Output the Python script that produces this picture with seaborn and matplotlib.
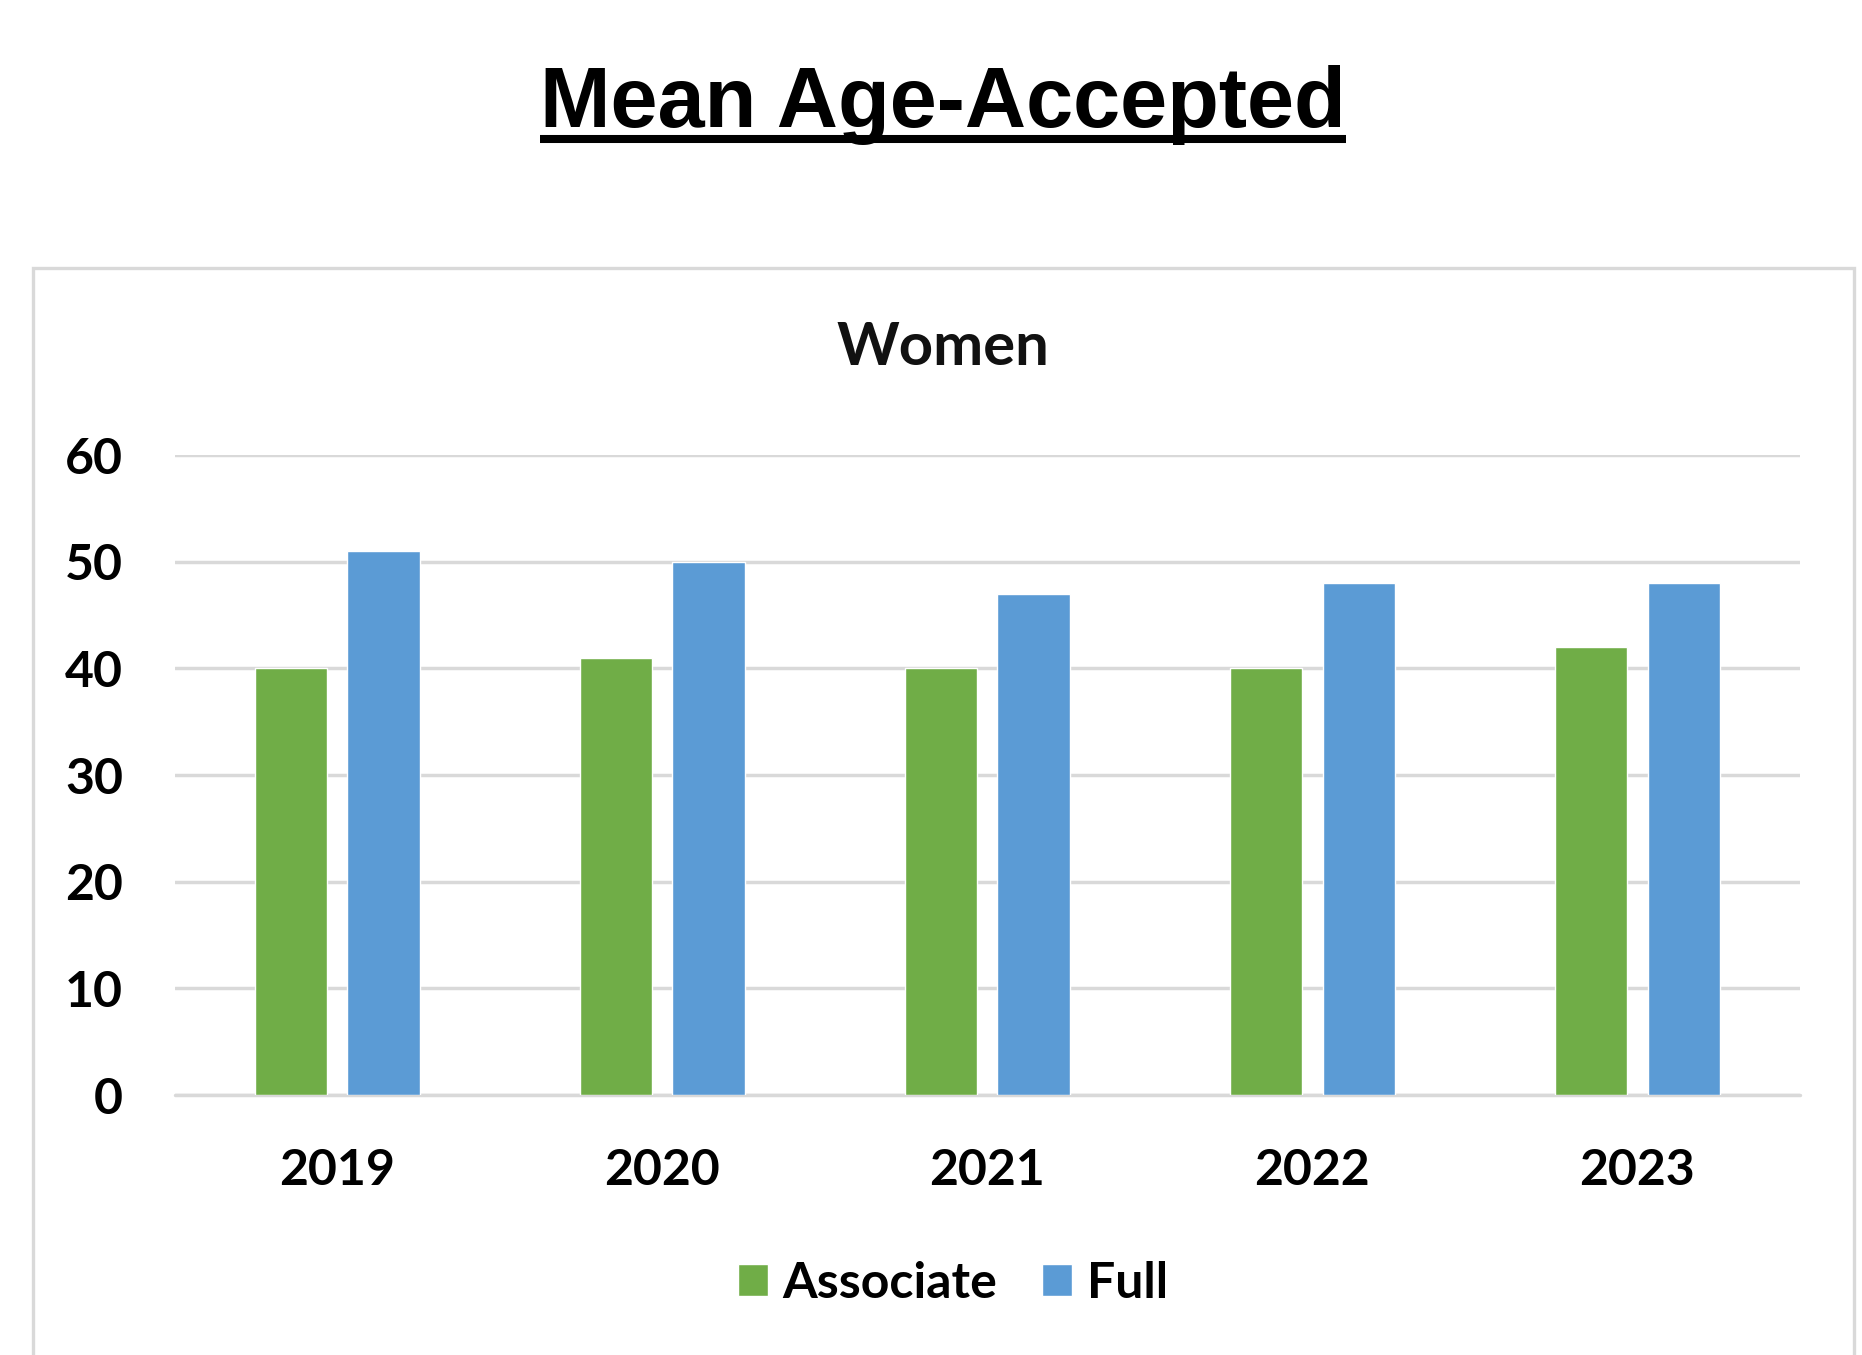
import matplotlib
matplotlib.use("Agg")
import matplotlib.pyplot as plt
from matplotlib.patches import Rectangle
from matplotlib.lines import Line2D
import seaborn as sns
import pandas as pd

# ---- data ----
years = ["2019", "2020", "2021", "2022", "2023"]
associate = [40, 41, 40, 40, 42]
full = [51, 50, 47, 48, 48]
series_names = ["Associate", "Full"]
colors = ["#70AD47", "#5B9BD5"]
yticks = [0, 10, 20, 30, 40, 50, 60]

df = pd.DataFrame({
    "Year": years * 2,
    "Value": associate + full,
    "Rank": [series_names[0]] * len(years) + [series_names[1]] * len(years),
})

sns.set_theme(style="white")
plt.rcParams["font.family"] = ["Lato", "DejaVu Sans"]
plt.rcParams["text.color"] = "black"

W, H = 1862, 1355
fig = plt.figure(figsize=(W / 100, H / 100), dpi=100)
fig.patch.set_facecolor("white")

# chart box
box = Rectangle((33 / W, -0.05), (1854 - 33) / W, (1 - 268 / H) + 0.05,
                transform=fig.transFigure, fill=False, edgecolor="#D9D9D9",
                linewidth=2.4, zorder=0)
fig.patches.append(box)

ax = fig.add_axes([174.6 / W, 1 - 1095 / H, (1800 - 174.6) / W, (1095 - 455) / H])
sns.barplot(data=df, x="Year", y="Value", hue="Rank", palette=colors,
            width=0.57, gap=0.22, ax=ax, saturation=1, zorder=3)

ax.set_ylim(0, 60)
ax.set_yticks(yticks)
ax.set_xlim(-0.5, 4.5)
for s in ax.spines.values():
    s.set_visible(False)
ax.yaxis.grid(True, color="#D9D9D9", linewidth=2.5)
ax.set_axisbelow(True)
ax.set_xlabel("")
ax.set_ylabel("")
ax.tick_params(axis="y", length=0, pad=37, labelsize=36, labelcolor="black")
ax.tick_params(axis="x", length=0, pad=38, labelsize=36, labelcolor="black")
for lab in ax.get_xticklabels() + ax.get_yticklabels():
    lab.set_fontweight("bold")
ax.axhline(0, color="#D9D9D9", linewidth=2.5, zorder=2, clip_on=False)

handles, labels = ax.get_legend_handles_labels()
if ax.legend_ is not None:
    ax.legend_.remove()
leg = fig.legend(handles, labels, loc="center", bbox_to_anchor=(953 / W, 1 - 1283 / H),
                 ncol=2, frameon=False, handlelength=0.6, handleheight=0.6,
                 handletextpad=0.3, columnspacing=0.9,
                 prop={"family": ["Lato", "DejaVu Sans"], "weight": "bold", "size": 36})
for txt in leg.get_texts():
    txt.set_color("black")

# inner title
fig.text(943 / W, 1 - 348 / H, "Women", ha="center", va="center",
         fontsize=43, fontweight="bold", color="#111111")

# main title with underline
t = fig.text(943 / W, 1 - 127 / H, "Mean Age-Accepted", ha="center", va="baseline",
             fontsize=61, fontweight="bold", family=["Liberation Sans", "DejaVu Sans"],
             color="black")
fig.canvas.draw()
bb = t.get_window_extent(renderer=fig.canvas.get_renderer())
uy = 1 - 139 / H
fig.lines.append(Line2D([bb.x0 / W, bb.x1 / W], [uy, uy], transform=fig.transFigure,
                        color="black", linewidth=5.8, solid_capstyle="butt"))

fig.savefig("out.png", dpi=100, facecolor="white")
